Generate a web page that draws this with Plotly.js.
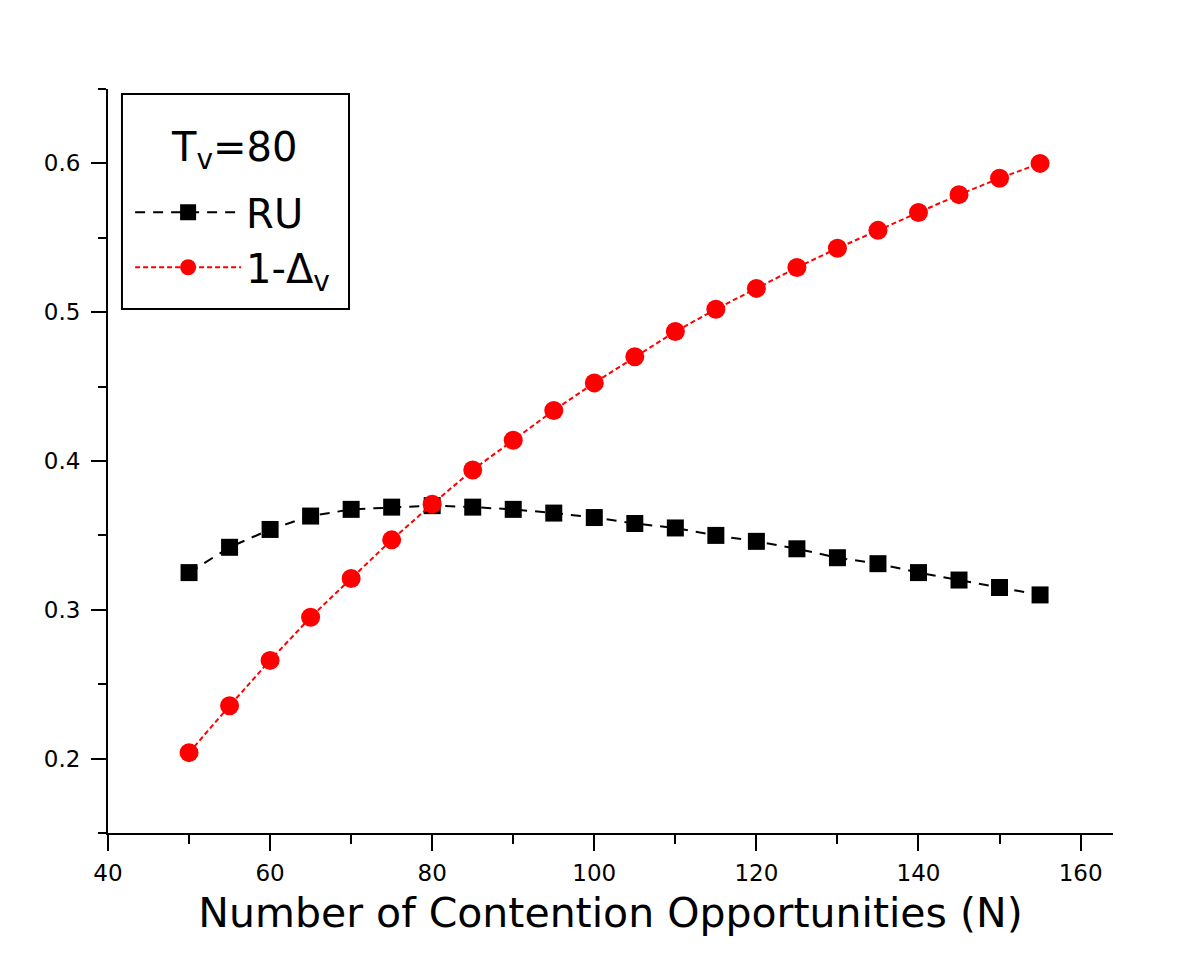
<!DOCTYPE html>
<html>
<head>
<meta charset="utf-8">
<script src="https://cdn.plot.ly/plotly-3.0.1.min.js"></script>
<style>
  body { margin: 0; background: #fff; }
  #plot { width: 1200px; height: 979px; }
</style>
</head>
<body>
<div id="plot"></div>
<script>
var contention = [50, 55, 60, 65, 70, 75, 80, 85, 90, 95, 100, 105, 110, 115, 120, 125, 130, 135, 140, 145, 150, 155];
var ru = [0.325, 0.342, 0.354, 0.363, 0.3675, 0.369, 0.370, 0.369, 0.3675, 0.365, 0.362, 0.358, 0.355, 0.350, 0.346, 0.341, 0.335, 0.331, 0.325, 0.320, 0.315, 0.310];
var oneMinusDelta = [0.204, 0.2355, 0.266, 0.295, 0.321, 0.347, 0.371, 0.394, 0.414, 0.434, 0.4525, 0.470, 0.487, 0.502, 0.516, 0.530, 0.543, 0.555, 0.567, 0.579, 0.590, 0.600];

var traceRU = {
  x: contention,
  y: ru,
  name: 'RU',
  type: 'scatter',
  mode: 'lines+markers',
  line: {color: 'black', width: 2, dash: '10px,8px'},
  marker: {symbol: 'square', size: 17, color: 'black'}
};

var traceDelta = {
  x: contention,
  y: oneMinusDelta,
  name: '1-Δ<sub>v</sub>',
  type: 'scatter',
  mode: 'lines+markers',
  line: {color: 'red', width: 2, dash: '5px,3px'},
  marker: {symbol: 'circle', size: 19, color: 'red'}
};

var fontFamily = 'DejaVu Sans, Arial, sans-serif';

var layout = {
  width: 1200,
  height: 979,
  margin: {l: 108, r: 87, t: 89, b: 146},
  paper_bgcolor: 'white',
  plot_bgcolor: 'white',
  font: {family: fontFamily, color: 'black'},
  showlegend: true,
  legend: {
    x: 0.022, y: 0.878, xanchor: 'left', yanchor: 'top',
    borderwidth: 0,
    bgcolor: 'rgba(0,0,0,0)',
    font: {family: fontFamily, size: 40, color: 'black'},
    itemwidth: 106
  },
  // legend heading, set as an annotation so its gap to the entries matches
  annotations: [{
    text: 'T<sub>v</sub>=80', xref: 'paper', yref: 'paper',
    x: 0.125, y: 0.918, xanchor: 'center', yanchor: 'middle',
    showarrow: false, font: {family: fontFamily, size: 40, color: 'black'}
  }],
  // frame around the legend
  shapes: [{
    type: 'rect', xref: 'paper', yref: 'paper',
    x0: 0.0139, x1: 0.2398, y0: 0.7043, y1: 0.9933,
    line: {color: 'black', width: 2},
    fillcolor: 'white', layer: 'below'
  }],
  xaxis: {
    range: [40, 164],
    tick0: 40, dtick: 20,
    showgrid: false, zeroline: false,
    showline: true, linecolor: 'black', linewidth: 2,
    ticks: 'outside', ticklen: 16, tickwidth: 2, tickcolor: 'black',
    tickfont: {family: fontFamily, size: 23},
    ticklabelstandoff: 2,
    minor: {dtick: 10, ticks: 'outside', ticklen: 9, tickwidth: 2, tickcolor: 'black'},
    title: {text: 'Number of Contention Opportunities (N)', font: {family: fontFamily, size: 41}, standoff: 14}
  },
  yaxis: {
    range: [0.15, 0.65],
    tick0: 0.2, dtick: 0.1,
    tickformat: '.1f',
    showgrid: false, zeroline: false,
    showline: true, linecolor: 'black', linewidth: 2,
    ticks: 'outside', ticklen: 15, tickwidth: 2, tickcolor: 'black',
    tickfont: {family: fontFamily, size: 23},
    ticklabelstandoff: 6,
    minor: {dtick: 0.05, ticks: 'outside', ticklen: 8, tickwidth: 2, tickcolor: 'black'}
  }
};

Plotly.newPlot('plot', [traceRU, traceDelta], layout, {displayModeBar: false});
</script>
</body>
</html>
